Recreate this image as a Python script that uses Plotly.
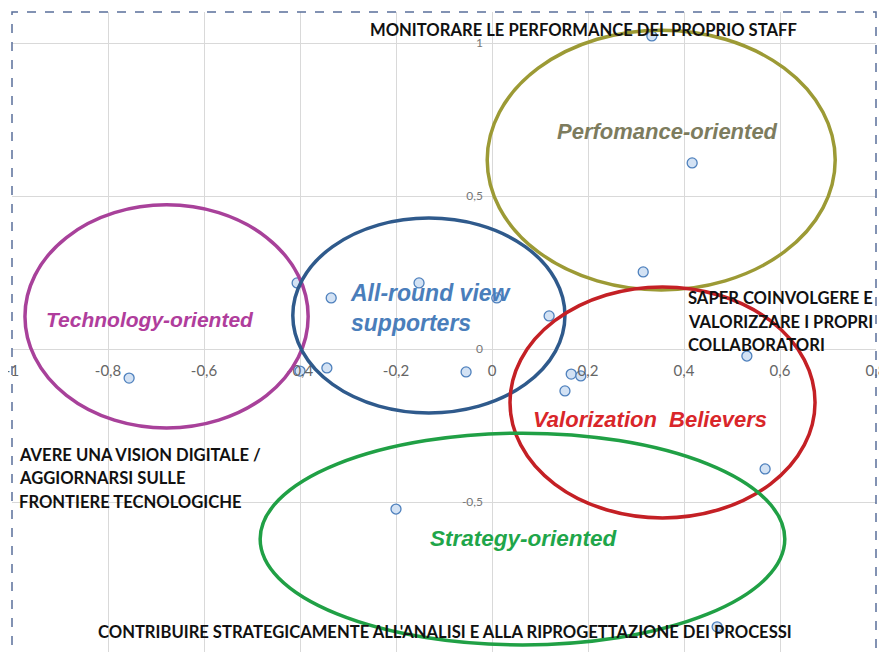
import plotly.graph_objects as go

# respondents (factor scores)
pts_x = [0.333, 0.417, 0.315, -0.406, -0.335, -0.152, 0.010, 0.119, -0.756, -0.400,
         -0.344, -0.054, 0.165, 0.185, 0.152, 0.531, 0.569, -0.200, 0.469]
pts_y = [1.023, 0.608, 0.252, 0.216, 0.167, 0.216, 0.167, 0.108, -0.095, -0.072,
         -0.062, -0.075, -0.082, -0.088, -0.137, -0.023, -0.392, -0.523, -0.908]

x_ticks = [-1, -0.8, -0.6, -0.4, -0.2, 0, 0.2, 0.4, 0.6, 0.8]
x_labels = ["-1", "-0,8", "-0,6", "-0,4", "-0,2", "0", "0,2", "0,4", "0,6", "0,8"]
y_ticks = [-0.5, 0, 0.5, 1]
y_labels = ["-0,5", "0", "0,5", "1"]

# clusters: name, colour, ellipse bounds (x0, x1, y0, y1), label position
clusters = ["Perfomance-oriented", "Technology-oriented", "All-round view<br>supporters",
            "Valorization  Believers", "Strategy-oriented"]
ring_colors = ["#9c9a35", "#a8419a", "#2f5a8c", "#c42025", "#20a045"]
text_colors = ["#7d7c5e", "#b03d9c", "#4a7ebb", "#d9262a", "#1fa64a"]
ell_x0 = [-0.010, -0.973, -0.415, 0.0375, -0.483]
ell_x1 = [0.715, -0.383, 0.152, 0.673, 0.610]
ell_y0 = [0.193, -0.258, -0.209, -0.552, -0.967]
ell_y1 = [1.042, 0.471, 0.428, 0.203, -0.275]
lab_x = [0.365, -0.7125, -0.30, 0.329, 0.067]
lab_y = [0.712, 0.095, 0.134, -0.232, -0.618]
lab_size = [22, 21, 23, 22, 22.5]
lab_anchor = ["center", "center", "left", "center", "center"]

# competence dimensions (one entry per text line)
dims = ["MONITORARE LE PERFORMANCE DEL PROPRIO STAFF",
        "SAPER COINVOLGERE E", "VALORIZZARE I PROPRI", "COLLABORATORI",
        "AVERE UNA VISION DIGITALE /", "AGGIORNARSI SULLE", "FRONTIERE TECNOLOGICHE",
        "CONTRIBUIRE STRATEGICAMENTE ALL'ANALISI E ALLA RIPROGETTAZIONE DEI PROCESSI"]
dim_x = [0.19, 0.404, 0.404, 0.404, -0.990, -0.990, -0.990, -0.098]
dim_y = [1.042, 0.167, 0.088, 0.013, -0.346, -0.422, -0.500, -0.925]
dim_anchor = ["center", "left", "left", "left", "left", "left", "left", "center"]

fig = go.Figure()
fig.add_trace(go.Scatter(
    x=pts_x, y=pts_y, mode="markers",
    marker=dict(size=10, color="#d3e2f4", line=dict(color="#4f81bd", width=1.3)),
))

for i, name in enumerate(clusters):
    fig.add_shape(type="circle", xref="x", yref="y",
                  x0=ell_x0[i], x1=ell_x1[i], y0=ell_y0[i], y1=ell_y1[i],
                  line=dict(color=ring_colors[i], width=3.5))
    fig.add_annotation(x=lab_x[i], y=lab_y[i], text="<b><i>%s</i></b>" % name,
                       showarrow=False, xanchor=lab_anchor[i], align="left",
                       font=dict(family="Liberation Sans", size=lab_size[i],
                                 color=text_colors[i]))

for i, t in enumerate(dims):
    fig.add_annotation(x=dim_x[i], y=dim_y[i], text="<b>%s</b>" % t, showarrow=False,
                       xanchor=dim_anchor[i], align="left",
                       font=dict(family="Lato", size=16.6, color="#111111"))

# dashed chart border
fig.add_shape(type="rect", xref="paper", yref="paper", x0=0, x1=1, y0=-0.05, y1=1,
              line=dict(color="#5a6f9a", width=1.5, dash="dash"))

# page body has an 8px margin: the figure is shifted by it, margins compensate
fig.update_layout(
    width=887, height=652,
    margin=dict(l=4, r=19, t=4, b=8),
    plot_bgcolor="white", paper_bgcolor="white",
    showlegend=False,
)
fig.update_xaxes(
    range=[-1, 0.8], tickvals=x_ticks, ticktext=x_labels, automargin=False,
    showgrid=True, gridcolor="#d9d9d9", gridwidth=1, zeroline=False, showline=False,
    anchor="free", position=(652 - 349) / 640, ticks="", ticklabelstandoff=11,
    ticklabeloverflow="allow",
    tickfont=dict(family="Lato", size=15, color="#666666"),
)
fig.update_yaxes(
    range=[-303 / 306, 337 / 306], tickvals=y_ticks, ticktext=y_labels, automargin=False,
    showgrid=True, gridcolor="#d9d9d9", gridwidth=1, zeroline=False, showline=False,
    anchor="free", position=480 / 864, ticks="", ticklabelstandoff=9,
    ticklabeloverflow="allow",
    tickfont=dict(family="Lato", size=12, color="#777777"),
)

fig.write_html("out.html")
